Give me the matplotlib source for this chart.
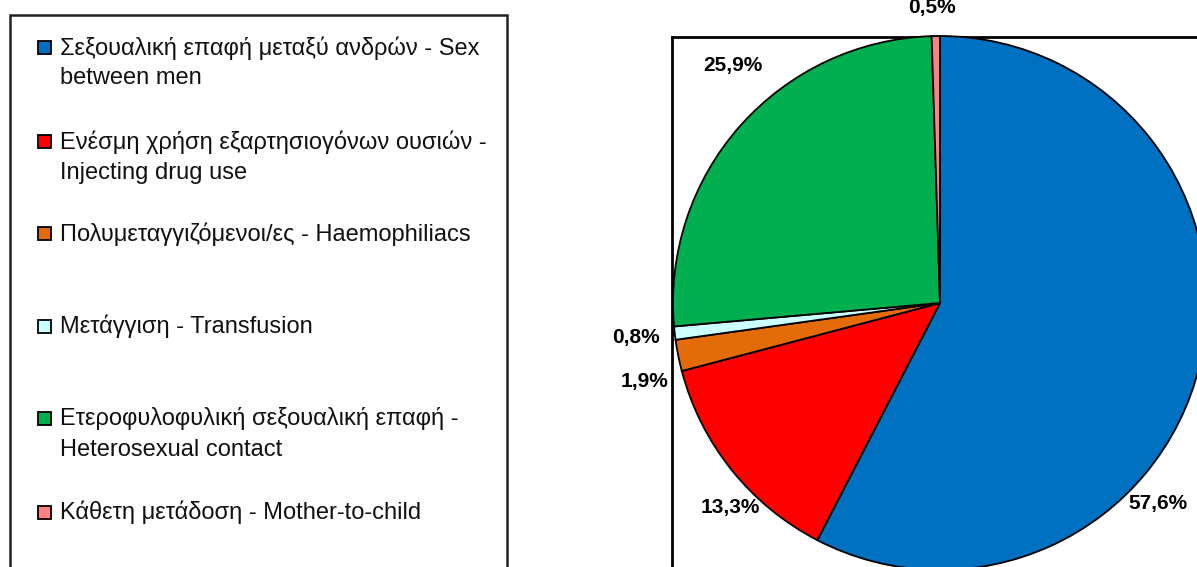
import matplotlib
matplotlib.use("Agg")
import matplotlib.pyplot as plt
from matplotlib.patches import Rectangle

categories = [
    "Σεξουαλική επαφή μεταξύ ανδρών - Sex\nbetween men",
    "Ενέσμη χρήση εξαρτησιογόνων ουσιών -\nInjecting drug use",
    "Πολυμεταγγιζόμενοι/ες - Haemophiliacs",
    "Μετάγγιση - Transfusion",
    "Ετεροφυλοφυλική σεξουαλική επαφή -\nHeterosexual contact",
    "Κάθετη μετάδοση - Mother-to-child",
]
values = [57.6, 13.3, 1.9, 0.8, 25.9, 0.5]
value_labels = ["57,6%", "13,3%", "1,9%", "0,8%", "25,9%", "0,5%"]
colors = ["#0070C0", "#FF0000", "#E36C09", "#CCFFFF", "#00B050", "#FF8080"]

W, H = 1197, 567
fig = plt.figure(figsize=(W / 100, H / 100), dpi=100)
ax = fig.add_axes([0, 0, 1, 1])

cx, cy, r = 940, H - 303, 267
wedges, _ = ax.pie(values, colors=colors, startangle=90, counterclock=False,
                   center=(cx, cy), radius=r,
                   wedgeprops=dict(edgecolor="black", linewidth=1.3))
ax.set_xlim(0, W)
ax.set_ylim(0, H)
ax.set_aspect("equal")
ax.axis("off")

# plot area frame
ax.plot([672, 672], [-5, H - 37], color="black", lw=2, zorder=0)
ax.plot([672, W + 5], [H - 37, H - 37], color="black", lw=2, zorder=0)

# percentage labels
label_pos = [(1158, 503), (730, 508), (645, 382), (636, 337), (733, 66), (932, 8)]
for (x, y), t in zip(label_pos, value_labels):
    ax.text(x, H - y, t, ha="center", va="center", color="black",
            family="Liberation Sans", fontsize=15, fontweight="bold")

# legend box
ax.add_patch(Rectangle((10, -10), 497, H - 15 + 10, fill=False,
                       edgecolor="#222222", lw=1.8))
entry_y = [47, 141, 233, 326, 418, 512]
for y, c, lab in zip(entry_y, colors, categories):
    ax.add_patch(Rectangle((37.5, H - y - 6.5), 13, 13, facecolor=c,
                           edgecolor="black", lw=1.3))
    for i, line in enumerate(lab.split("\n")):
        ax.text(60, H - (y + 7.5 + 30 * i), line, ha="left", va="baseline",
                fontsize=17, family="Liberation Sans", color="#111111")

fig.savefig("out.png", dpi=100)
